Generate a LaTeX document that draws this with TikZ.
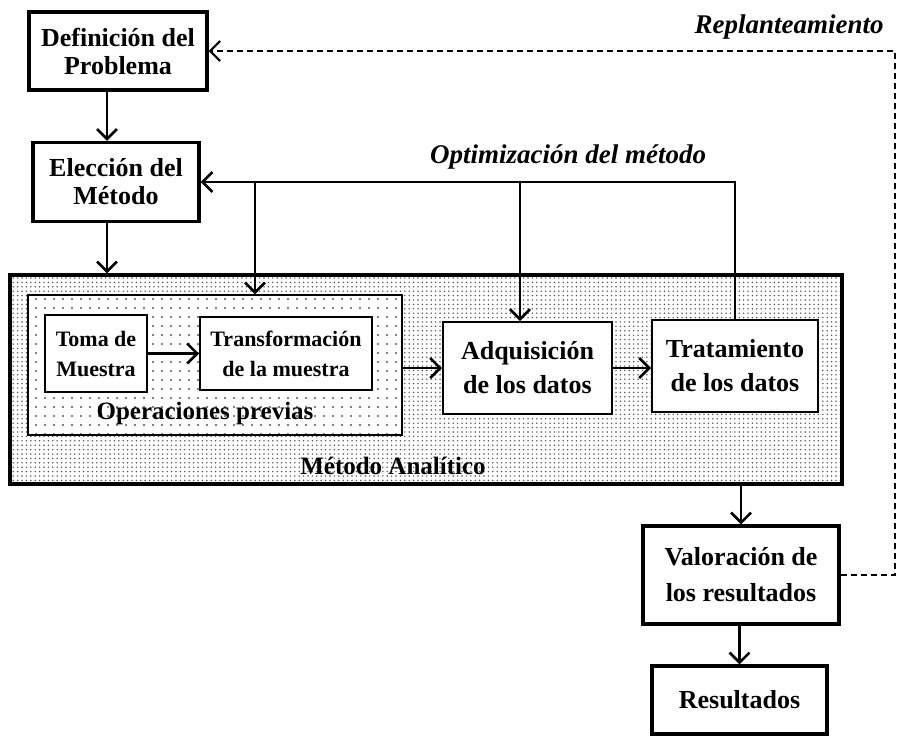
\documentclass[tikz,border=0pt]{standalone}
\usepackage{fontspec}
\setmainfont{Liberation Serif}
\usetikzlibrary{arrows.meta, patterns.meta}

\begin{document}
\begin{tikzpicture}[x=0.5pt, y=-0.5pt,
			box/.style = {draw, line width=1.6pt, fill=white, align=center, inner sep=0pt, font=\fontsize{13}{14}\selectfont\bfseries},
			inbox/.style = {draw, line width=1pt, fill=white, align=center, inner sep=0pt},
			flow/.style = {line width=1.3pt, -{Straight Barb[length=5pt, width=10pt]}},
			back/.style = {line width=1.1pt, dash pattern=on 3pt off 2pt, -{Straight Barb[length=5pt, width=10pt]}},
			lbl/.style = {font=\fontsize{13.5}{15}\selectfont\bfseries\itshape}]
			\useasboundingbox (0,0) rectangle (898,740);
			\coordinate (ca) at (107,0);
			\coordinate (b1) at (255,0);
			\coordinate (b2) at (520,0);
			\coordinate (rx) at (895,0);
			\node[box, minimum width=89pt, minimum height=39pt] (def) at (118,51) {Definición del\\Problema};
			\node[box, minimum width=83pt, minimum height=39.5pt] (elec) at (116,182) {Elección del\\Método};
			\node[draw, line width=1.6pt, pattern={Dots[distance=2.2pt, radius=0.4pt]}, pattern color=black!70, minimum width=416pt, minimum height=104.5pt] (metodo) at (426,379.5) {};
			\node[draw, line width=0.6pt, preaction={fill=white}, pattern={Dots[distance=4.5pt, radius=0.45pt]}, minimum width=187pt, minimum height=70pt] (ops) at (215,365) {};
			\node[inbox, font=\fontsize{11}{15}\selectfont\bfseries, minimum width=51pt, minimum height=38.5pt] (toma) at (96,353.5) {Toma de\\Muestra};
			\node[inbox, font=\fontsize{11}{15}\selectfont\bfseries, minimum width=86pt, minimum height=36.5pt] (trans) at (286,353.5) {Transformación\\de la muestra};
			\node[font=\fontsize{12.5}{15}\selectfont\bfseries] (opslbl) at (205,413) {Operaciones previas};
			\node[inbox, font=\fontsize{13}{17}\selectfont\bfseries, minimum width=84.5pt, minimum height=46pt] (adq) at (527.5,368) {Adquisición\\de los datos};
			\node[inbox, font=\fontsize{13}{17}\selectfont\bfseries, minimum width=83pt, minimum height=46pt] (trat) at (735,366) {Tratamiento\\de los datos};
			\node[font=\fontsize{12.5}{15}\selectfont\bfseries] (metlbl) at (393,466) {Método Analítico};
			\node[box, font=\fontsize{13}{18}\selectfont\bfseries, minimum width=98pt, minimum height=49pt] (val) at (741,575) {Valoración de\\los resultados};
			\node[box, minimum width=87.5pt, minimum height=34pt] (res) at (739.5,700) {Resultados};
			\node[lbl] (optlbl) at (568,157) {Optimización del método};
			\node[lbl] (replbl) at (789,27) {Replanteamiento};
			\draw[flow] (def.south -| ca) -- (elec.north -| ca);
			\draw[flow] (elec.south -| ca) -- (metodo.north -| ca);
			\draw[flow] (trat.north) |- (elec.east);
			\draw[flow] (b1 |- elec.east) -- (b1 |- ops.north);
			\draw[flow] (b2 |- elec.east) -- (b2 |- adq.north);
			\draw[flow] (toma.east) -- (trans.west);
			\draw[flow] (adq.west -| ops.east) -- (adq.west);
			\draw[flow] (adq.east) -- (adq.east -| trat.west);
			\draw[flow] (val.north |- metodo.south) -- (val.north);
			\draw[flow] (res.north |- val.south) -- (res.north);
			\draw[back] (val.east) -- (val.east -| rx) |- (def.east);
		\end{tikzpicture}
\end{document}
